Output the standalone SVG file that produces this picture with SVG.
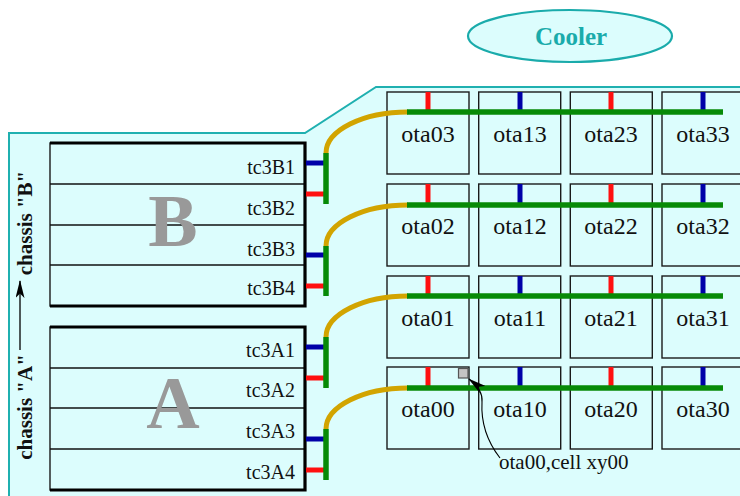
<svg xmlns="http://www.w3.org/2000/svg" width="740" height="496" viewBox="0 0 740 496">
<style>
.txt{font-family:'Liberation Serif',serif;fill:#111}
.ota{font-size:24px;text-anchor:middle}
.tc{font-size:20px;text-anchor:end}
.big{font-family:'Liberation Serif',serif;font-weight:bold;font-size:74px;fill:#999;text-anchor:middle}
.ch{font-family:'Liberation Serif',serif;font-weight:bold;font-size:21px;fill:#111;text-anchor:middle}
.box{fill:none;stroke:#1a1a1a;stroke-width:1.4}
.thick{fill:none;stroke:#000;stroke-width:3.2}
.sep{stroke:#111;stroke-width:1.4}
.green{stroke:#078a07;stroke-width:5.5;fill:none}
.gold{stroke:#d2a400;stroke-width:5;fill:none}
.red{stroke:#ff1010;stroke-width:5}
.blue{stroke:#0000a8;stroke-width:5}
</style>
<defs>
<marker id="arr" viewBox="0 0 20 10" refX="19" refY="5" markerWidth="18" markerHeight="9" markerUnits="userSpaceOnUse" orient="auto">
<path d="M0,0 L20,5 L0,10 L5,5 Z" fill="#000"/>
</marker>
</defs>
<g id="background">
<path d="M9,497 L9,133 L305,133 L376,87 L742,87 L742,497 Z" fill="#dcfdfd" stroke="none"/>
<path d="M9,497 L9,133 L305,133 L376,87 L742,87" fill="none" stroke="#1fb0b0" stroke-width="2"/>
</g>
<g id="cooler">
<ellipse cx="570" cy="36" rx="102" ry="26" fill="#dcfdfd" stroke="#1aabab" stroke-width="2.2"/>
<text x="571" y="45" font-family="'Liberation Serif', serif" font-weight="bold" font-size="25" fill="#1aabab" text-anchor="middle">Cooler</text>
</g>
<g id="chassis-label">
<text class="ch" transform="translate(32,223) rotate(-90)">chassis "B"</text>
<text class="ch" transform="translate(32,407) rotate(-90)">chassis "A"</text>
<line x1="20" y1="350" x2="20" y2="281" stroke="#000" stroke-width="1.3" marker-end="url(#arr)"/>
</g>
<g id="chassisB" font-family="'Liberation Serif', serif">
<rect x="50" y="143" width="255" height="163" class="box"/>
<line class="sep" x1="50" y1="184" x2="305" y2="184"/>
<line class="sep" x1="50" y1="225" x2="305" y2="225"/>
<line class="sep" x1="50" y1="265" x2="305" y2="265"/>
<polyline class="thick" points="50,143 305,143 305,306 50,306"/>
<text class="big" x="173" y="246">B</text>
<text class="txt tc" x="295" y="174">tc3B1</text>
<text class="txt tc" x="295" y="215">tc3B2</text>
<text class="txt tc" x="295" y="256">tc3B3</text>
<text class="txt tc" x="295" y="295">tc3B4</text>
</g>
<g id="chassisA" font-family="'Liberation Serif', serif">
<rect x="50" y="327" width="255" height="163" class="box"/>
<line class="sep" x1="50" y1="368" x2="305" y2="368"/>
<line class="sep" x1="50" y1="408" x2="305" y2="408"/>
<line class="sep" x1="50" y1="449" x2="305" y2="449"/>
<polyline class="thick" points="50,327 305,327 305,490 50,490"/>
<text class="big" x="173" y="428">A</text>
<text class="txt tc" x="295" y="357">tc3A1</text>
<text class="txt tc" x="295" y="397">tc3A2</text>
<text class="txt tc" x="295" y="438">tc3A3</text>
<text class="txt tc" x="295" y="479">tc3A4</text>
</g>
<g id="ota-cells" font-family="'Liberation Serif', serif">
<g id="row3">
<rect class="box" x="387" y="92" width="82" height="82"/>
<rect class="box" x="478.7" y="92" width="82" height="82"/>
<rect class="box" x="570.3" y="92" width="82" height="82"/>
<rect class="box" x="662" y="92" width="82" height="82"/>
<text class="txt ota" x="428" y="142">ota03</text>
<text class="txt ota" x="520" y="142">ota13</text>
<text class="txt ota" x="611" y="142">ota23</text>
<text class="txt ota" x="703" y="142">ota33</text>
</g>
<g id="row2">
<rect class="box" x="387" y="184" width="82" height="82"/>
<rect class="box" x="478.7" y="184" width="82" height="82"/>
<rect class="box" x="570.3" y="184" width="82" height="82"/>
<rect class="box" x="662" y="184" width="82" height="82"/>
<text class="txt ota" x="428" y="234">ota02</text>
<text class="txt ota" x="520" y="234">ota12</text>
<text class="txt ota" x="611" y="234">ota22</text>
<text class="txt ota" x="703" y="234">ota32</text>
</g>
<g id="row1">
<rect class="box" x="387" y="276" width="82" height="82"/>
<rect class="box" x="478.7" y="276" width="82" height="82"/>
<rect class="box" x="570.3" y="276" width="82" height="82"/>
<rect class="box" x="662" y="276" width="82" height="82"/>
<text class="txt ota" x="428" y="326">ota01</text>
<text class="txt ota" x="520" y="326">ota11</text>
<text class="txt ota" x="611" y="326">ota21</text>
<text class="txt ota" x="703" y="326">ota31</text>
</g>
<g id="row0">
<rect class="box" x="387" y="367" width="82" height="82"/>
<rect class="box" x="478.7" y="367" width="82" height="82"/>
<rect class="box" x="570.3" y="367" width="82" height="82"/>
<rect class="box" x="662" y="367" width="82" height="82"/>
<text class="txt ota" x="428" y="417">ota00</text>
<text class="txt ota" x="520" y="417">ota10</text>
<text class="txt ota" x="611" y="417">ota20</text>
<text class="txt ota" x="703" y="417">ota30</text>
</g>
</g>
<g id="connectors">
<line class="blue" x1="306" y1="163" x2="325" y2="163"/>
<line class="red" x1="306" y1="194" x2="325" y2="194"/>
<line class="blue" x1="306" y1="255" x2="325" y2="255"/>
<line class="red" x1="306" y1="286" x2="325" y2="286"/>
<line class="blue" x1="306" y1="347" x2="325" y2="347"/>
<line class="red" x1="306" y1="378" x2="325" y2="378"/>
<line class="blue" x1="306" y1="439" x2="325" y2="439"/>
<line class="red" x1="306" y1="470" x2="325" y2="470"/>
<path class="gold" d="M326,153 A82,41 0 0 1 408,112"/>
<path class="gold" d="M326,246 A82,41 0 0 1 408,205"/>
<path class="gold" d="M326,337 A82,41 0 0 1 408,296"/>
<path class="gold" d="M326,429 A82,41 0 0 1 408,388"/>
<line class="green" x1="326" y1="153" x2="326" y2="204"/>
<line class="green" x1="326" y1="246" x2="326" y2="296"/>
<line class="green" x1="326" y1="337" x2="326" y2="388"/>
<line class="green" x1="326" y1="429" x2="326" y2="480"/>
<line class="red" x1="428" y1="92" x2="428" y2="112"/>
<line class="blue" x1="520" y1="92" x2="520" y2="112"/>
<line class="red" x1="611" y1="92" x2="611" y2="112"/>
<line class="blue" x1="703" y1="92" x2="703" y2="112"/>
<line class="red" x1="428" y1="184" x2="428" y2="205"/>
<line class="blue" x1="520" y1="184" x2="520" y2="205"/>
<line class="red" x1="611" y1="184" x2="611" y2="205"/>
<line class="blue" x1="703" y1="184" x2="703" y2="205"/>
<line class="red" x1="428" y1="276" x2="428" y2="296"/>
<line class="blue" x1="520" y1="276" x2="520" y2="296"/>
<line class="red" x1="611" y1="276" x2="611" y2="296"/>
<line class="blue" x1="703" y1="276" x2="703" y2="296"/>
<line class="red" x1="428" y1="367" x2="428" y2="388"/>
<line class="blue" x1="520" y1="367" x2="520" y2="388"/>
<line class="red" x1="611" y1="367" x2="611" y2="388"/>
<line class="blue" x1="703" y1="367" x2="703" y2="388"/>
<line class="green" x1="407" y1="112" x2="723" y2="112"/>
<line class="green" x1="407" y1="205" x2="723" y2="205"/>
<line class="green" x1="407" y1="296" x2="723" y2="296"/>
<line class="green" x1="407" y1="388" x2="723" y2="388"/>
</g>
<g id="annotation">
<rect x="458.5" y="368.5" width="9.5" height="9.5" fill="#c4c4c4" stroke="#555" stroke-width="1.2"/>
<path d="M500,458 C486,440 481,420 482,402 C483,393 478,386 469,379" fill="none" stroke="#000" stroke-width="1.1" marker-end="url(#arr)"/>
<text x="499" y="469" font-family="'Liberation Serif', serif" font-size="21" fill="#111">ota00,cell xy00</text>
</g>
</svg>
